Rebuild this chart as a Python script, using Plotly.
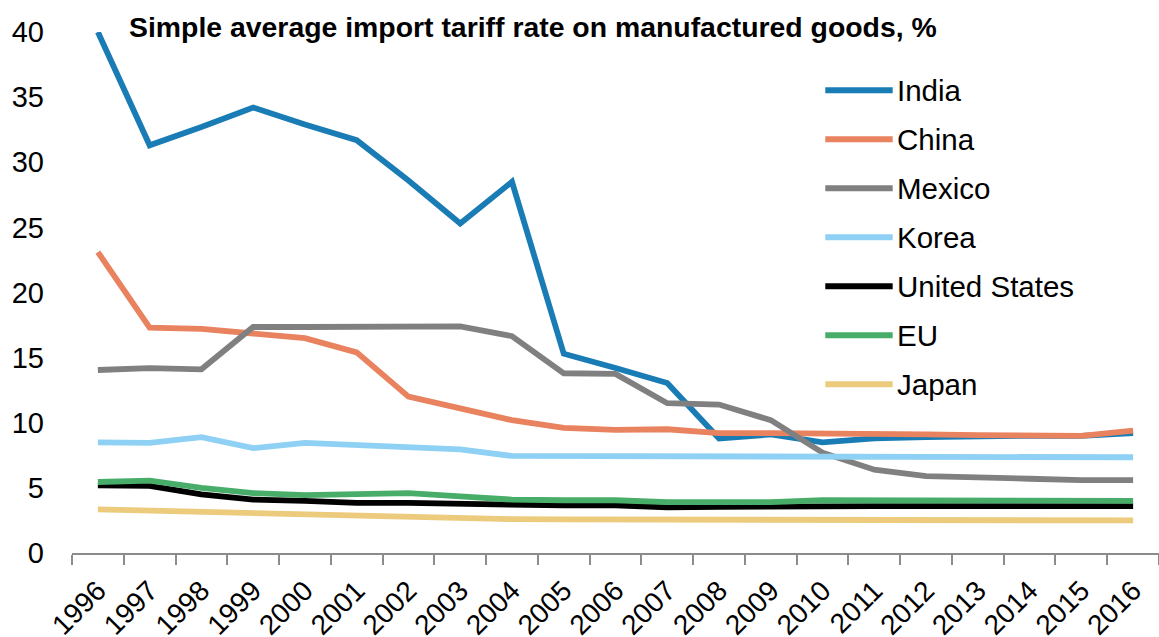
import plotly.graph_objects as go

# Years on the category axis
years = [str(y) for y in range(1996, 2017)]

# Simple average import tariff rates on manufactured goods, %
india = [40.0, 31.3, 32.7, 34.2, 32.9, 31.7, 28.6, 25.3, 28.5, 15.3, 14.2, 13.05,
         8.8, 9.1, 8.5, 8.8, 8.9, 9.0, 9.0, 9.0, 9.2]
china = [23.1, 17.3, 17.2, 16.9, 16.5, 15.4, 12.0, 11.1, 10.2, 9.6, 9.45, 9.5,
         9.2, 9.2, 9.2, 9.15, 9.1, 9.05, 9.0, 9.0, 9.4]
mexico = [14.05, 14.2, 14.1, 17.35, 17.35, 17.35, 17.4, 17.4, 16.65, 13.8, 13.75, 11.5,
          11.4, 10.2, 7.7, 6.4, 5.9, 5.75, 5.7, 5.6, 5.6]
korea = [8.5, 8.45, 8.9, 8.05, 8.45, 8.3, 8.1, 7.95, 7.45, 7.45, 7.45, 7.45,
         7.4, 7.4, 7.35, 7.35, 7.35, 7.35, 7.35, 7.35, 7.35]
united_states = [5.2, 5.15, 4.5, 4.1, 4.0, 3.85, 3.85, 3.75, 3.65, 3.65, 3.65, 3.5,
                 3.55, 3.6, 3.6, 3.6, 3.6, 3.6, 3.6, 3.6, 3.6]
eu = [5.45, 5.55, 5.0, 4.6, 4.45, 4.5, 4.6, 4.35, 4.1, 4.05, 4.05, 3.9,
      3.9, 3.9, 4.05, 4.05, 4.05, 4.05, 4.05, 4.05, 4.0]
japan = [3.35, 3.25, 3.15, 3.0, 2.9, 2.8, 2.75, 2.65, 2.6, 2.58, 2.57, 2.56,
         2.55, 2.55, 2.55, 2.55, 2.5, 2.5, 2.52, 2.48, 2.5]

names = ["India", "China", "Mexico", "Korea", "United States", "EU", "Japan"]
series = [india, china, mexico, korea, united_states, eu, japan]
colors = ["#1a7cb5", "#e8825f", "#808080", "#8fd1f4", "#000000", "#48ad68", "#eccb7c"]

y_ticks = [0, 5, 10, 15, 20, 25, 30, 35, 40]

FONT = "Liberation Sans, Arial, sans-serif"

fig = go.Figure()
for name, vals, col in zip(names, series, colors):
    fig.add_trace(go.Scatter(
        x=years, y=vals, name=name, mode="lines",
        line=dict(color=col, width=5.8),
        showlegend=False,
    ))

# Hand-drawn legend with long line swatches
leg_x0, leg_x1, leg_tx = 0.693, 0.755, 0.757
leg_top, leg_step = 0.888, 0.094
for i, (name, col) in enumerate(zip(names, colors)):
    yy = leg_top - i * leg_step
    fig.add_shape(type="line", xref="paper", yref="paper",
                  x0=leg_x0, x1=leg_x1, y0=yy, y1=yy,
                  line=dict(color=col, width=6))
    fig.add_annotation(xref="paper", yref="paper", x=leg_tx, y=yy,
                       text=name, showarrow=False, xanchor="left", yanchor="middle",
                       font=dict(family=FONT, size=29.5, color="#000000"))

# Chart title inside the plot area
fig.add_annotation(xref="paper", yref="paper", x=0.0506, y=1.0096,
                   text="<b>Simple average import tariff rate on manufactured goods, %</b>",
                   showarrow=False, xanchor="left", yanchor="middle",
                   font=dict(family=FONT, size=28.4, color="#000000"))

fig.update_layout(
    width=1159, height=637,
    margin=dict(l=72, r=0, t=32, b=84, autoexpand=False),
    paper_bgcolor="white", plot_bgcolor="white",
    font=dict(family=FONT, color="#000000"),
    xaxis=dict(
        type="category", tickson="boundaries", range=[-0.5, 20.5],
        showline=True, linecolor="#8c8c8c", linewidth=2,
        ticks="outside", ticklen=10, tickwidth=2, tickcolor="#8c8c8c",
        tickangle=-45, ticklabelstandoff=8, automargin=False,
        tickfont=dict(family=FONT, size=28, color="#000000"),
        showgrid=False, zeroline=False,
    ),
    yaxis=dict(
        range=[0, 40], tickvals=y_ticks, ticktext=[str(v) for v in y_ticks],
        showline=False, showgrid=False, zeroline=False,
        ticks="", ticklabelstandoff=27, automargin=False,
        tickfont=dict(family=FONT, size=29, color="#000000"),
    ),
)

fig.write_html("out.html")
